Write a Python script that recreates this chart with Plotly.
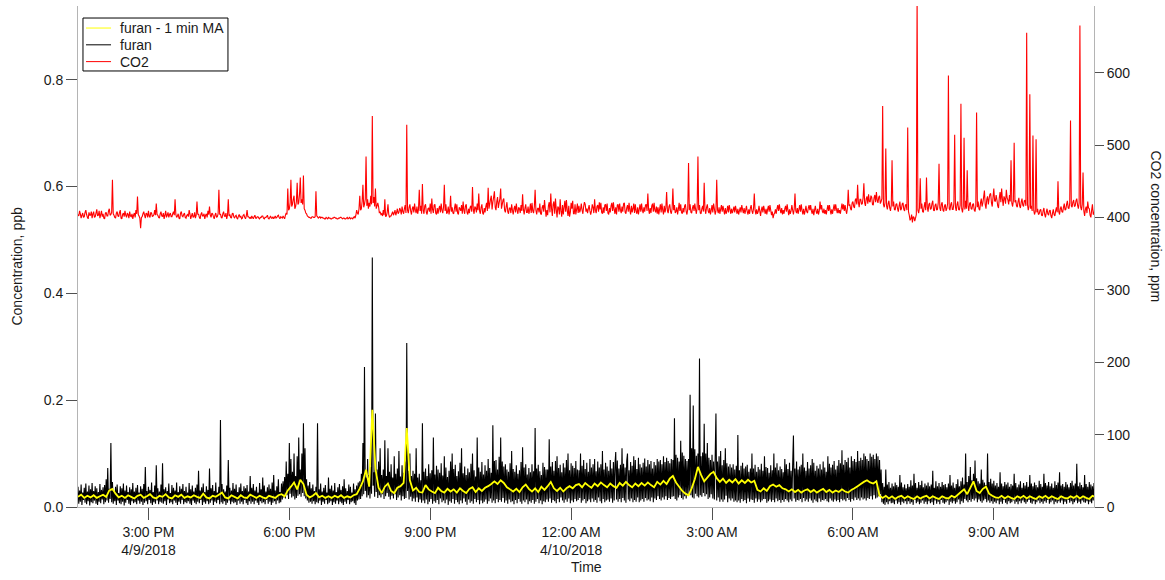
import numpy as np
import pandas as pd
import plotly.graph_objects as go

# Sampling: raw furan and CO2 every minute, furan moving average every 4 min
start_time = "2018-04-09 13:30"

# Raw furan concentration, ppt (parts per trillion); 20 minutes per row
furan_ppt = [
    38, 6, 31, 10, 42, 4, 27, 13, 36, 8, 44, 5, 29, 11, 40, 3, 33, 9, 45, 7,
    30, 12, 39, 6, 35, 4, 28, 10, 43, 7, 32, 14, 37, 5, 41, 9, 52, 12, 73, 8,
    34, 15, 120, 9, 47, 6, 30, 11, 38, 4, 42, 12, 26, 7, 39, 5, 35, 10, 44, 3,
    31, 8, 40, 13, 28, 6, 37, 4, 33, 11, 45, 7, 29, 9, 36, 5, 41, 12, 27, 6,
    39, 10, 34, 4, 43, 8, 75, 11, 30, 5, 38, 13, 32, 7, 46, 4, 28, 9, 40, 6,
    78, 12, 35, 5, 29, 10, 42, 8, 82, 6, 33, 11, 37, 4, 30, 14, 44, 7, 26, 9,
    41, 5, 36, 12, 31, 8, 46, 4, 28, 10, 39, 6, 34, 13, 43, 5, 30, 9, 38, 7,
    27, 11, 45, 6, 33, 4, 40, 12, 29, 8, 36, 5, 42, 10, 68, 7, 31, 13, 37, 4,
    44, 9, 28, 6, 39, 11, 32, 5, 72, 8, 35, 12, 41, 4, 30, 10, 46, 7, 27, 13,
    38, 5, 163, 9, 43, 6, 33, 11, 29, 4, 40, 8, 88, 12, 36, 5, 31, 10, 45, 7,
    34, 9, 42, 4, 28, 12, 37, 6, 44, 10, 30, 5, 39, 13, 35, 7, 41, 4, 29, 11,
    58, 6, 36, 10, 43, 5, 31, 12, 38, 8, 27, 4, 45, 11, 33, 7, 55, 9, 40, 5,
    29, 13, 37, 6, 42, 10, 34, 4, 46, 8, 60, 11, 31, 5, 39, 12, 52, 7, 28, 9,
    44, 14, 48, 18, 56, 16, 85, 22, 62, 15, 120, 25, 90, 18, 66, 20, 100, 14, 58, 17,
    95, 21, 130, 24, 70, 19, 100, 26, 157, 20, 110, 16, 52, 12, 40, 8, 47, 10, 35, 6,
    42, 11, 30, 5, 38, 9, 157, 7, 33, 12, 44, 4, 29, 10, 36, 6, 41, 13, 27, 5,
    55, 8, 34, 11, 40, 4, 31, 9, 45, 6, 28, 12, 37, 5, 43, 10, 32, 7, 39, 4,
    52, 10, 35, 6, 30, 13, 42, 5, 38, 9, 27, 11, 44, 7, 33, 4, 40, 12, 46, 14,
    48, 15, 62, 20, 120, 24, 262, 30, 55, 18, 90, 22, 60, 16, 75, 25, 467, 40, 65, 19,
    175, 28, 70, 17, 85, 22, 110, 18, 60, 24, 70, 15, 125, 20, 58, 26, 110, 19, 66, 14,
    80, 21, 55, 16, 95, 24, 62, 13, 72, 18, 105, 22, 57, 12, 78, 20, 64, 15, 85, 17,
    307, 30, 68, 14, 100, 19, 58, 11, 68, 16, 62, 10, 110, 18, 55, 9, 62, 14, 50, 8,
    157, 12, 66, 7, 72, 14, 58, 5, 80, 10, 63, 15, 69, 6, 130, 11, 61, 8, 77, 13,
    70, 5, 64, 16, 82, 9, 59, 12, 95, 7, 74, 14, 56, 4, 68, 11, 85, 8, 100, 15,
    71, 6, 79, 13, 58, 9, 67, 5, 83, 12, 110, 7, 63, 16, 76, 10, 60, 4, 72, 14,
    65, 8, 81, 11, 100, 6, 69, 15, 57, 9, 130, 13, 74, 5, 66, 12, 84, 7, 61, 10,
    78, 14, 68, 6, 90, 11, 73, 16, 64, 8, 153, 12, 86, 7, 88, 15, 70, 9, 94, 13,
    130, 10, 85, 17, 76, 8, 80, 12, 70, 6, 66, 14, 82, 9, 105, 11, 71, 5, 66, 13,
    78, 7, 62, 15, 69, 10, 84, 6, 112, 12, 74, 9, 80, 14, 61, 5, 73, 11, 65, 8,
    80, 13, 67, 6, 148, 10, 72, 15, 79, 7, 67, 12, 60, 5, 83, 11, 75, 9, 70, 14,
    70, 10, 127, 16, 76, 8, 84, 13, 68, 11, 86, 7, 95, 15, 73, 9, 79, 18, 65, 12,
    82, 8, 74, 14, 88, 10, 100, 16, 69, 7, 82, 12, 77, 9, 73, 15, 86, 11, 70, 13,
    69, 17, 100, 8, 77, 12, 88, 15, 71, 7, 83, 11, 66, 14, 90, 9, 74, 16, 80, 10,
    90, 13, 67, 8, 85, 18, 74, 11, 80, 7, 105, 15, 70, 9, 83, 12, 76, 14, 68, 10,
    88, 16, 72, 8, 84, 12, 79, 103, 14, 87, 10, 72, 15, 79, 9, 110, 17, 81, 12, 74,
    8, 86, 100, 14, 69, 11, 84, 16, 77, 9, 95, 13, 88, 10, 71, 18, 92, 9, 80, 12,
    74, 15, 83, 10, 91, 17, 76, 12, 88, 14, 80, 11, 86, 18, 72, 9, 84, 16, 78, 13,
    90, 20, 85, 15, 88, 12, 80, 18, 95, 14, 84, 20, 92, 13, 86, 17, 82, 15, 90, 19,
    88, 20, 166, 15, 98, 12, 92, 18, 85, 22, 124, 17, 102, 14, 96, 20, 90, 16, 86, 22,
    90, 24, 210, 22, 110, 18, 190, 16, 108, 25, 96, 20, 100, 18, 278, 22, 95, 19, 102, 26,
    156, 20, 100, 24, 120, 15, 92, 18, 88, 24, 98, 16, 85, 14, 90, 175, 12, 85, 18, 95,
    10, 105, 14, 78, 10, 88, 14, 110, 21, 82, 9, 76, 16, 80, 12, 74, 16, 80, 10, 70,
    12, 77, 9, 135, 12, 69, 8, 77, 15, 83, 11, 72, 13, 76, 7, 79, 16, 66, 10, 72,
    14, 100, 13, 72, 8, 79, 16, 66, 10, 75, 14, 70, 9, 81, 12, 68, 15, 95, 15, 75,
    8, 73, 11, 64, 14, 78, 10, 69, 13, 100, 9, 74, 16, 82, 11, 69, 13, 76, 8, 71,
    13, 65, 10, 90, 15, 80, 12, 71, 9, 83, 14, 68, 11, 77, 134, 16, 72, 10, 85, 13,
    70, 12, 76, 15, 79, 9, 100, 17, 74, 11, 68, 14, 84, 10, 72, 16, 78, 12, 90, 8,
    83, 14, 68, 11, 77, 9, 72, 16, 80, 10, 70, 13, 85, 12, 74, 15, 66, 11, 95, 9,
    81, 16, 74, 12, 79, 10, 86, 14, 70, 11, 77, 13, 88, 9, 82, 15, 106, 12, 79, 14,
    88, 11, 84, 17, 92, 13, 74, 10, 95, 15, 86, 12, 90, 18, 84, 13, 105, 16, 86, 12,
    92, 18, 88, 14, 100, 16, 95, 12, 90, 17, 86, 15, 100, 20, 94, 14, 98, 22, 90, 16,
    100, 18, 95, 20, 88, 24, 70, 9, 45, 6, 38, 4, 70, 9, 42, 5, 47, 11, 36, 7,
    44, 8, 39, 5, 46, 12, 41, 6, 38, 9, 60, 4, 46, 10, 37, 7, 42, 11, 35, 5,
    43, 11, 38, 6, 50, 9, 40, 4, 62, 13, 45, 7, 36, 10, 47, 5, 41, 8, 49, 12,
    37, 6, 44, 10, 40, 5, 46, 11, 39, 7, 42, 9, 68, 4, 36, 12, 48, 6, 39, 10,
    45, 5, 38, 13, 47, 8, 41, 6, 43, 9, 37, 12, 44, 4, 60, 10, 40, 7, 46, 11,
    36, 6, 43, 9, 52, 14, 39, 5, 48, 11, 55, 8, 42, 15, 100, 12, 47, 9, 58, 13,
    75, 10, 50, 15, 62, 12, 87, 16, 54, 9, 48, 14, 44, 11, 70, 8, 51, 12, 46, 15,
    41, 9, 100, 12, 47, 8, 53, 11, 44, 6, 49, 10, 40, 7, 45, 12, 38, 5, 65, 10,
    44, 6, 39, 13, 47, 8, 42, 5, 46, 11, 38, 7, 43, 9, 40, 12, 62, 6, 45, 10,
    37, 5, 42, 11, 48, 7, 36, 12, 45, 9, 40, 6, 47, 10, 38, 13, 60, 8, 44, 6,
    39, 11, 46, 5, 41, 9, 37, 12, 49, 7, 43, 10, 38, 6, 62, 11, 45, 8, 40, 13,
    47, 6, 39, 9, 44, 12, 36, 5, 48, 10, 41, 7, 46, 11, 65, 8, 40, 12, 43, 5,
    38, 10, 47, 6, 42, 13, 37, 8, 45, 11, 49, 5, 40, 9, 44, 12, 81, 7, 39, 10,
    46, 6, 41, 12, 37, 9, 60, 8, 43, 11, 38, 5, 47, 10, 42, 7, 39, 12, 45, 8,
    11,
]

# Furan 1-minute moving average, ppt; one value every 4 minutes
furan_ma_ppt = [
    19, 23, 17, 21, 18, 22, 17, 20, 23, 19,
    31, 34, 25, 18, 21, 17, 22, 19, 16, 21,
    23, 17, 20, 24, 18, 16, 21, 19, 24, 18,
    16, 22, 19, 23, 17, 20, 18, 22, 19, 17,
    25, 18, 16, 21, 19, 23, 27, 18, 16, 22,
    19, 16, 22, 18, 17, 23, 20, 17, 21, 18,
    16, 21, 19, 17, 22, 24, 20, 31, 38, 46,
    33, 51, 43, 23, 18, 21, 26, 18, 21, 17,
    20, 17, 21, 18, 22, 17, 20, 18, 22, 24,
    35, 48, 70, 38, 182, 72, 36, 26, 38, 44,
    30, 26, 36, 39, 45, 148, 50, 31, 36, 28,
    27, 41, 33, 29, 26, 36, 30, 27, 34, 29,
    33, 27, 35, 30, 26, 34, 37, 28, 35, 30,
    36, 39, 43, 48, 43, 50, 45, 37, 33, 29,
    34, 28, 37, 42, 34, 29, 35, 28, 38, 32,
    39, 47, 35, 30, 36, 29, 35, 39, 35, 41,
    43, 37, 45, 40, 36, 44, 39, 46, 41, 37,
    44, 39, 36, 45, 40, 47, 41, 37, 44, 39,
    45, 40, 46, 41, 37, 47, 42, 49, 43, 53,
    58, 46, 38, 30, 25, 22, 35, 52, 75, 60,
    48, 55, 62, 66, 54, 47, 53, 45, 51, 46,
    52, 44, 50, 45, 51, 46, 49, 32, 29, 35,
    30, 39, 42, 38, 41, 35, 33, 29, 33, 28,
    32, 27, 31, 33, 28, 32, 27, 31, 34, 28,
    32, 27, 31, 28, 33, 29, 27, 32, 35, 39,
    43, 47, 50, 46, 44, 48, 21, 17, 21, 16,
    20, 15, 19, 21, 16, 20, 17, 15, 20, 16,
    19, 21, 16, 20, 17, 15, 20, 17, 16, 21,
    18, 23, 28, 33, 24, 36, 48, 30, 26, 34,
    38, 25, 21, 18, 17, 21, 16, 20, 17, 15,
    20, 17, 21, 16, 20, 17, 15, 20, 17, 21,
    16, 20, 17, 15, 20, 17, 16, 20, 17, 21,
    16, 20, 17, 15, 21, 18,
]

# CO2 concentration, ppm; 20 minutes per row
co2_ppm = [
    404, 402, 409, 405, 399, 403, 406, 400, 401, 407, 410, 404, 400, 398, 407, 403, 403, 408, 399, 405,
    408, 400, 401, 406, 411, 402, 403, 409, 399, 404, 409, 401, 405, 399, 398, 406, 407, 402, 402, 409,
    412, 403, 404, 407, 452, 405, 403, 400, 399, 406, 408, 402, 401, 407, 410, 399, 398, 404, 406, 401,
    409, 403, 400, 406, 404, 399, 408, 402, 401, 405, 398, 403, 406, 400, 410, 405, 429, 404, 402, 399,
    385, 400, 401, 405, 408, 403, 399, 406, 405, 400, 409, 402, 400, 407, 406, 401, 402, 404, 410, 403,
    419, 404, 403, 400, 399, 405, 408, 402, 401, 406, 398, 403, 409, 400, 403, 407, 400, 404, 406, 401,
    401, 405, 408, 403, 425, 404, 400, 402, 405, 399, 398, 406, 408, 402, 401, 404, 406, 400, 399, 403,
    404, 401, 410, 405, 398, 402, 406, 400, 401, 407, 399, 403, 422, 404, 405, 400, 398, 404, 407, 402,
    402, 405, 398, 403, 405, 400, 409, 404, 415, 403, 400, 406, 405, 401, 398, 403, 406, 400, 401, 405,
    438, 404, 405, 400, 399, 405, 408, 402, 401, 406, 398, 403, 425, 402, 404, 400, 399, 405, 406, 401,
    399, 402, 403, 399, 398, 402, 404, 400, 402, 398, 399, 403, 404, 400, 398, 402, 410, 401, 401, 399,
    400, 398, 402, 400, 398, 401, 403, 399, 399, 401, 401, 399, 398, 400, 400, 402, 402, 399, 398, 400,
    400, 401, 403, 399, 398, 400, 402, 399, 399, 401, 398, 400, 402, 399, 400, 402, 403, 400, 398, 401,
    400, 399, 402, 400, 398, 403, 406, 404, 440, 410, 412, 420, 452, 415, 418, 425, 430, 412, 415, 422,
    448, 418, 420, 432, 455, 420, 425, 418, 458, 412, 410, 406, 405, 402, 401, 400, 400, 399, 399, 401,
    401, 400, 400, 401, 436, 402, 401, 399, 400, 401, 399, 400, 400, 399, 399, 398, 398, 400, 399, 398,
    400, 399, 399, 398, 398, 399, 399, 400, 400, 399, 399, 398, 398, 399, 399, 400, 400, 399, 398, 399,
    399, 398, 398, 399, 400, 398, 399, 400, 398, 399, 399, 398, 400, 401, 399, 403, 410, 406, 404, 412,
    430, 410, 412, 422, 445, 414, 418, 425, 484, 416, 425, 412, 420, 415, 430, 418, 540, 420, 428, 415,
    440, 412, 416, 420, 415, 406, 408, 404, 405, 402, 410, 403, 425, 401, 402, 407, 418, 404, 400, 402,
    402, 405, 408, 403, 406, 410, 403, 407, 412, 405, 407, 413, 410, 404, 415, 408, 405, 412, 417, 406,
    528, 410, 406, 414, 418, 409, 404, 412, 415, 407, 419, 410, 406, 415, 405, 411, 438, 409, 416, 405,
    446, 410, 405, 416, 418, 407, 404, 412, 413, 408, 419, 405, 426, 411, 406, 417, 418, 406, 404, 413,
    405, 412, 416, 407, 419, 410, 406, 414, 445, 409, 418, 405, 407, 415, 404, 411, 430, 408, 414, 406,
    405, 413, 419, 408, 418, 406, 404, 414, 412, 409, 417, 405, 422, 410, 405, 416, 418, 407, 404, 412,
    406, 414, 416, 408, 442, 411, 405, 415, 413, 407, 419, 410, 433, 409, 405, 414, 418, 406, 404, 413,
    407, 415, 420, 409, 441, 412, 418, 425, 430, 411, 421, 428, 436, 414, 410, 422, 428, 413, 420, 426,
    440, 412, 418, 424, 426, 410, 407, 415, 421, 408, 405, 413, 413, 406, 418, 410, 404, 412, 416, 407,
    419, 410, 405, 414, 412, 406, 417, 409, 432, 411, 404, 413, 418, 407, 407, 415, 405, 410, 419, 406,
    420, 409, 406, 415, 438, 410, 404, 412, 413, 407, 419, 405, 404, 414, 417, 408, 424, 412, 401, 410,
    403, 416, 421, 407, 433, 412, 402, 418, 422, 405, 426, 411, 400, 415, 413, 404, 425, 409, 401, 417,
    404, 414, 423, 408, 424, 410, 402, 416, 401, 407, 420, 412, 423, 405, 405, 418, 404, 411, 419, 406,
    416, 407, 411, 419, 410, 405, 415, 421, 418, 408, 412, 406, 412, 417, 409, 404, 409, 418, 414, 406,
    425, 410, 406, 415, 417, 408, 421, 411, 420, 407, 405, 414, 406, 417, 418, 409, 419, 406, 404, 413,
    407, 416, 420, 409, 421, 411, 405, 414, 404, 417, 418, 408, 419, 410, 406, 415, 408, 419, 420, 407,
    405, 413, 417, 408, 420, 410, 404, 416, 407, 412, 419, 406, 418, 409, 405, 414, 404, 411, 418, 408,
    419, 410, 406, 414, 408, 417, 418, 409, 433, 411, 405, 413, 406, 416, 419, 408, 420, 410, 407, 415,
    405, 414, 404, 411, 418, 407, 419, 410, 404, 416, 407, 413, 435, 409, 406, 415, 418, 408, 405, 412,
    440, 410, 417, 406, 408, 414, 404, 411, 420, 409, 418, 407, 405, 413, 407, 416, 418, 408, 404, 412,
    475, 410, 418, 407, 406, 413, 417, 409, 419, 411, 405, 414, 484, 410, 417, 406, 405, 412, 416, 408,
    448, 411, 405, 414, 418, 409, 406, 413, 404, 410, 417, 407, 419, 412, 404, 409, 452, 410, 406, 414,
    405, 411, 417, 408, 416, 410, 404, 413, 405, 409, 416, 407, 417, 411, 405, 412, 406, 410, 415, 407,
    416, 410, 405, 412, 404, 409, 414, 407, 417, 411, 406, 413, 405, 410, 416, 408, 404, 411, 405, 413,
    417, 409, 405, 412, 433, 410, 404, 411, 405, 408, 416, 409, 402, 410, 415, 407, 416, 410, 405, 412,
    404, 411, 416, 408, 417, 410, 403, 408, 399, 404, 406, 411, 405, 412, 417, 409, 418, 411, 406, 413,
    404, 410, 405, 412, 416, 408, 418, 410, 403, 411, 405, 409, 417, 410, 404, 412, 433, 409, 406, 413,
    405, 411, 417, 408, 418, 410, 404, 412, 404, 409, 416, 408, 406, 413, 417, 410, 417, 409, 405, 412,
    403, 410, 416, 408, 405, 412, 404, 409, 422, 411, 417, 408, 406, 412, 405, 410, 404, 411, 417, 409,
    417, 410, 404, 411, 405, 412, 418, 409, 418, 411, 406, 413, 406, 410, 405, 412, 419, 411, 418, 409,
    417, 410, 405, 413, 438, 416, 418, 412, 410, 420, 422, 415, 413, 424, 426, 418, 445, 421, 414, 425,
    425, 418, 419, 427, 447, 420, 416, 426, 429, 419, 432, 422, 421, 430, 428, 418, 417, 427, 431, 421,
    435, 424, 420, 428, 430, 419, 422, 426, 554, 418, 414, 420, 495, 416, 411, 419, 423, 413, 409, 417,
    479, 415, 422, 411, 410, 418, 419, 412, 408, 416, 422, 410, 412, 419, 420, 411, 409, 417, 418, 410,
    524, 408, 403, 396, 398, 404, 393, 401, 400, 395, 399, 404, 705, 410, 406, 413, 454, 412, 419, 408,
    407, 415, 421, 410, 455, 414, 408, 418, 420, 411, 412, 419, 423, 410, 409, 417, 419, 410, 411, 420,
    474, 413, 409, 418, 421, 410, 408, 416, 418, 409, 412, 419, 596, 412, 410, 418, 421, 411, 411, 419,
    514, 414, 409, 418, 422, 411, 410, 417, 557, 412, 407, 415, 510, 411, 423, 412, 465, 416, 409, 419,
    421, 412, 411, 418, 419, 410, 408, 416, 545, 414, 422, 412, 410, 420, 426, 415, 420, 428, 437, 418,
    412, 425, 429, 418, 426, 432, 433, 420, 415, 428, 440, 423, 422, 431, 424, 416, 413, 427, 435, 421,
    440, 425, 416, 429, 426, 419, 438, 427, 424, 418, 431, 422, 479, 420, 415, 423, 503, 421, 424, 416,
    414, 422, 427, 416, 413, 421, 426, 417, 415, 423, 424, 416, 655, 418, 410, 415, 570, 412, 416, 409,
    513, 410, 404, 408, 508, 407, 412, 404, 405, 410, 411, 403, 402, 409, 413, 404, 400, 407, 412, 405,
    403, 409, 410, 402, 399, 406, 411, 404, 402, 409, 414, 407, 450, 408, 404, 412, 415, 408, 407, 414,
    419, 410, 411, 418, 423, 413, 412, 420, 534, 416, 414, 421, 424, 415, 416, 423, 426, 417, 412, 420,
    665, 414, 410, 418, 462, 409, 402, 411, 415, 406, 422, 413, 412, 403, 400, 410, 418, 404, 405, 414,
    419,
]

tick_times = [
    "2018-04-09 15:00", "2018-04-09 18:00", "2018-04-09 21:00",
    "2018-04-10 00:00", "2018-04-10 03:00", "2018-04-10 06:00",
    "2018-04-10 09:00",
]
tick_text = [
    "3:00 PM<br>4/9/2018", "6:00 PM", "9:00 PM",
    "12:00 AM<br>4/10/2018", "3:00 AM", "6:00 AM", "9:00 AM",
]
left_ticks = [0.0, 0.2, 0.4, 0.6, 0.8]
right_ticks = [0, 100, 200, 300, 400, 500, 600]

series_names = ["furan - 1 min MA", "furan", "CO2"]
series_colors = ["#ffff00", "#000000", "#ff0000"]

t_raw = pd.date_range(start_time, periods=len(furan_ppt), freq="1min")
t_ma = pd.date_range(start_time, periods=len(furan_ma_ppt), freq="4min")
t_co2 = pd.date_range(start_time, periods=len(co2_ppm), freq="1min")

furan_ppb = np.array(furan_ppt) / 1000.0
furan_ma_ppb = np.array(furan_ma_ppt) / 1000.0

FONT = "Liberation Sans, Arial, sans-serif"
TEXT = "#1a1a1a"
AXIS_GRAY = "#b4b4b4"
TICK_GRAY = "#505050"

fig = go.Figure()
fig.add_trace(go.Scatter(
    x=t_raw, y=furan_ppb, name=series_names[1], mode="lines",
    line=dict(color=series_colors[1], width=1.1, simplify=False),
))
fig.add_trace(go.Scatter(
    x=t_ma, y=furan_ma_ppb, name=series_names[0], mode="lines",
    line=dict(color=series_colors[0], width=1.8, simplify=False),
))
fig.add_trace(go.Scatter(
    x=t_co2, y=co2_ppm, name=series_names[2], mode="lines", yaxis="y2",
    line=dict(color=series_colors[2], width=1.1, simplify=False),
))

# Compact boxed legend in the upper-left corner of the plot area
legend_shapes = [dict(
    type="rect", xref="paper", yref="paper",
    x0=0.0049, x1=0.1476, y0=0.8703, y1=0.976,
    line=dict(color="#000000", width=1), fillcolor="white", layer="above",
)]
legend_notes = []
for k, (name, color) in enumerate(zip(series_names, series_colors)):
    row_y = 0.956 - k * 0.0335
    legend_shapes.append(dict(
        type="line", xref="paper", yref="paper",
        x0=0.0079, x1=0.0325, y0=row_y, y1=row_y,
        line=dict(color=color, width=1), layer="above",
    ))
    legend_notes.append(dict(
        text=name, xref="paper", yref="paper", x=0.0395, y=row_y,
        xanchor="left", yanchor="middle", showarrow=False,
        font=dict(family=FONT, size=14, color=TEXT),
    ))

fig.update_layout(
    width=1165, height=580,
    margin=dict(l=78, r=71, t=6, b=73),
    paper_bgcolor="white", plot_bgcolor="white",
    font=dict(family=FONT, size=14, color=TEXT),
    showlegend=False,
    xaxis=dict(
        range=["2018-04-09 13:30", "2018-04-10 11:08"],
        tickmode="array", tickvals=tick_times, ticktext=tick_text,
        ticks="outside", ticklen=12, tickcolor=TICK_GRAY, tickwidth=1,
        showline=True, linecolor=AXIS_GRAY, linewidth=1,
        showgrid=False, zeroline=False,
        tickfont=dict(family=FONT, size=14, color=TEXT),
    ),
    yaxis=dict(
        range=[0, 0.938],
        tickmode="array", tickvals=left_ticks, tickformat=".1f",
        ticks="outside", ticklen=11, tickcolor=TICK_GRAY, tickwidth=1,
        showline=True, linecolor=AXIS_GRAY, linewidth=1,
        showgrid=False, zeroline=False,
        tickfont=dict(family=FONT, size=14, color=TEXT),
    ),
    yaxis2=dict(
        range=[0, 692], overlaying="y", side="right",
        tickmode="array", tickvals=right_ticks,
        ticks="outside", ticklen=9, tickcolor=TICK_GRAY, tickwidth=1,
        showline=True, linecolor=AXIS_GRAY, linewidth=1,
        showgrid=False, zeroline=False,
        tickfont=dict(family=FONT, size=14, color=TEXT),
    ),
    shapes=legend_shapes,
    annotations=legend_notes + [
        dict(text="Time", xref="paper", yref="paper", x=0.5, y=-0.12,
             xanchor="center", yanchor="middle", showarrow=False,
             font=dict(family=FONT, size=14, color=TEXT)),
        dict(text="Concentration, ppb", xref="paper", yref="paper",
             x=-0.061, y=0.48, xanchor="center", yanchor="middle",
             textangle=-90, showarrow=False,
             font=dict(family=FONT, size=14, color=TEXT)),
        dict(text="CO2 concentration, ppm", xref="paper", yref="paper",
             x=1.061, y=0.56, xanchor="center", yanchor="middle",
             textangle=90, showarrow=False,
             font=dict(family=FONT, size=14, color=TEXT)),
    ],
)

fig.write_html("out.html")
